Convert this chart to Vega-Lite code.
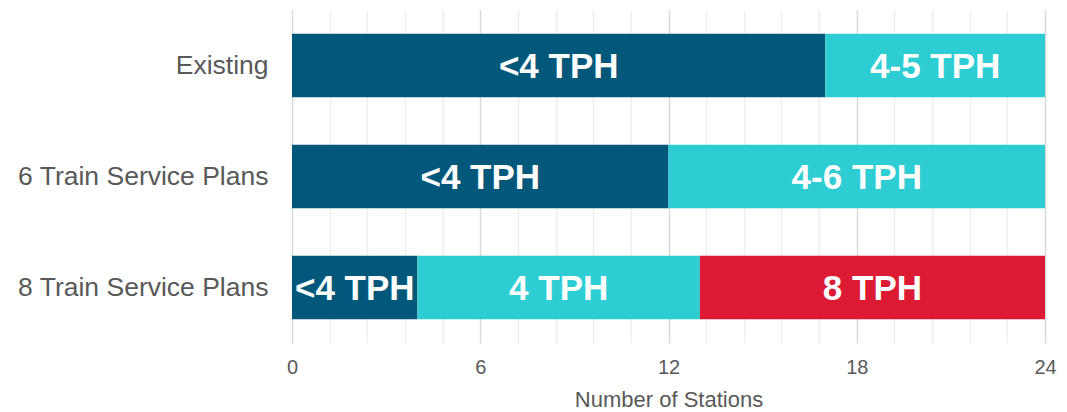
{
  "$schema": "https://vega.github.io/schema/vega-lite/v6.json",
  "autosize": {"type": "none"},
  "padding": {"left": 292, "top": 10, "right": 22, "bottom": 69},
  "width": 753,
  "height": 333,
  "background": "white",
  "config": {"view": {"stroke": null}, "font": "Liberation Sans"},
  "data": {
    "values": [
      {"plan": "Existing", "service": "<4 TPH", "stations": 17, "order": 1},
      {"plan": "Existing", "service": "4-5 TPH", "stations": 7, "order": 2},
      {"plan": "6 Train Service Plans", "service": "<4 TPH", "stations": 12, "order": 1},
      {"plan": "6 Train Service Plans", "service": "4-6 TPH", "stations": 12, "order": 2},
      {"plan": "8 Train Service Plans", "service": "<4 TPH", "stations": 4, "order": 1},
      {"plan": "8 Train Service Plans", "service": "4 TPH", "stations": 9, "order": 2},
      {"plan": "8 Train Service Plans", "service": "8 TPH", "stations": 11, "order": 3}
    ]
  },
  "transform": [
    {"stack": "stations", "groupby": ["plan"], "sort": [{"field": "order", "order": "ascending"}], "as": ["x0", "x1"]},
    {"calculate": "(datum.x0 + datum.x1) / 2", "as": "mid"}
  ],
  "encoding": {
    "y": {
      "field": "plan", "type": "nominal",
      "sort": ["Existing", "6 Train Service Plans", "8 Train Service Plans"],
      "scale": {"paddingInner": 0.43, "paddingOuter": 0.215},
      "axis": {"title": null, "ticks": false, "domain": false, "labelFontSize": 26.5, "labelColor": "#595959", "labelPadding": 24, "labelFont": "Liberation Sans", "labelLimit": 400}
    }
  },
  "resolve": {"axis": {"x": "independent"}},
  "layer": [
    {
      "mark": {"type": "bar"},
      "encoding": {
        "x": {
          "field": "x0", "type": "quantitative",
          "scale": {"domain": [0, 24], "nice": false},
          "axis": {
            "orient": "top",
            "title": null,
            "values": [1.2, 2.4, 3.6, 4.8, 7.2, 8.4, 9.6, 10.8, 13.2, 14.4, 15.6, 16.8, 19.2, 20.4, 21.6, 22.8],
            "labels": false, "ticks": false, "domain": false,
            "grid": true, "gridColor": "#eeeeee", "gridWidth": 1.5
          }
        },
        "x2": {"field": "x1"},
        "color": {
          "field": "service", "type": "nominal",
          "scale": {"domain": ["<4 TPH", "4-5 TPH", "4-6 TPH", "4 TPH", "8 TPH"], "range": ["#02587a", "#2ecdd4", "#2ecdd4", "#2ecdd4", "#dc1a34"]},
          "legend": null
        }
      }
    },
    {
      "mark": {"type": "text", "color": "white", "fontSize": 35, "fontWeight": "bold", "font": "Liberation Sans", "baseline": "middle", "align": "center", "dy": 1},
      "encoding": {
        "x": {
          "field": "mid", "type": "quantitative",
          "axis": {
            "orient": "bottom",
            "title": "Number of Stations",
            "titleFont": "Liberation Sans",
            "titleFontSize": 22, "titleFontWeight": "normal", "titleColor": "#595959", "titlePadding": 12,
            "values": [0, 6, 12, 18, 24],
            "labelFont": "Liberation Sans",
            "labelFontSize": 20, "labelColor": "#595959", "labelPadding": 14,
            "labelOverlap": false, "labelFlush": false,
            "ticks": false, "domain": false,
            "grid": true, "gridColor": "#d9d9d9", "gridWidth": 1.5
          }
        },
        "text": {"field": "service", "type": "nominal"}
      }
    }
  ]
}
